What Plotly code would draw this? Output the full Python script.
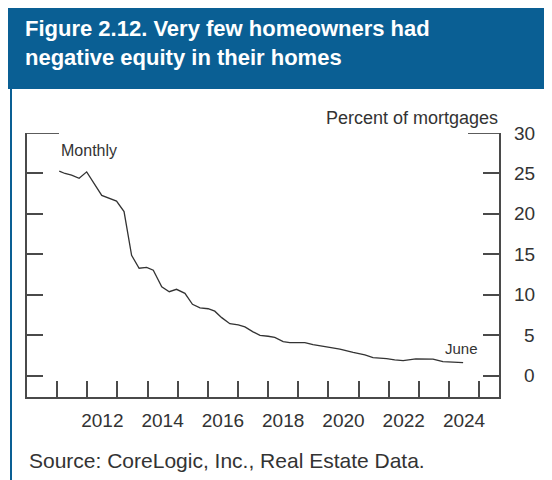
"""Figure 2.12: share of mortgages with negative equity, 2011-2024."""
import plotly.graph_objects as go

# decimal year and percent of mortgages in negative equity
years = [2011.07, 2011.26, 2011.48, 2011.73, 2011.98, 2012.48, 2012.97, 2013.22,
         2013.47, 2013.72, 2013.97, 2014.08, 2014.19, 2014.47, 2014.72, 2014.96,
         2015.24, 2015.49, 2015.74, 2016.01, 2016.23, 2016.46, 2016.73, 2017.01,
         2017.23, 2017.50, 2017.73, 2018.00, 2018.22, 2018.50, 2018.72, 2019.22,
         2019.49, 2019.94, 2020.38, 2020.82, 2021.21, 2021.48, 2021.93, 2022.20,
         2022.48, 2022.90, 2023.25, 2023.47, 2023.80, 2024.13, 2024.47]
pct = [25.3, 25.0, 24.8, 24.4, 25.2, 22.3, 21.6, 20.3,
       14.9, 13.3, 13.4, 13.25, 13.05, 11.0, 10.4, 10.7,
       10.2, 8.85, 8.4, 8.3, 8.0, 7.2, 6.45, 6.3,
       6.05, 5.45, 5.0, 4.9, 4.75, 4.25, 4.12, 4.12,
       3.88, 3.58, 3.3, 2.9, 2.6, 2.27, 2.15, 1.98,
       1.9, 2.12, 2.12, 2.08, 1.78, 1.7, 1.65]

year_ticks = list(range(2011, 2026))
year_labels = ["2012", "2014", "2016", "2018", "2020", "2022", "2024"]
y_ticks = [0, 5, 10, 15, 20, 25, 30]

# the page body adds an 8px margin, so the figure is drawn 8px smaller
# and page positions below are shifted by OFF
OFF = 8
W, H = 552 - OFF, 480 - OFF
L, R, T, B = 27 - OFF, W - (499 - OFF), 133 - OFF, H - (397 - OFF)
PW, PH = W - L - R, H - T - B
BLUE = "#0a5f94"
INK = "#333333"
AXIS = "#4a4a4a"
FONT = "Liberation Sans, Arial, sans-serif"


def px(x):
    """page x pixel -> paper fraction"""
    return (x - OFF - L) / PW


def py(y):
    """page y pixel (from top) -> paper fraction"""
    return (H - B - (y - OFF)) / PH


fig = go.Figure()
fig.add_trace(go.Scatter(x=years, y=pct, mode="lines",
                         line=dict(color=INK, width=1.3),
                         hoverinfo="skip", showlegend=False))
# empty trace so xaxis2 (the year labels) gets drawn
fig.add_trace(go.Scatter(x=[2010], y=[None], xaxis="x2", showlegend=False,
                         hoverinfo="skip"))

axis_common = dict(showgrid=False, zeroline=False)
fig.update_layout(
    width=W, height=H,
    margin=dict(l=L, r=R, t=T, b=B, pad=0),
    paper_bgcolor="white", plot_bgcolor="white",
    font=dict(family=FONT, color=INK, size=19),
    xaxis=dict(range=[2010, 2025.66], tickmode="array", tickvals=year_ticks,
               ticks="inside", ticklen=16, tickwidth=1.8, tickcolor=AXIS,
               showline=True, linecolor=AXIS, linewidth=2,
               showticklabels=False, **axis_common),
    xaxis2=dict(range=[2010, 2025.66], overlaying="x", anchor="y", side="bottom",
                tickmode="array", tickvals=[int(s) + 0.5 for s in year_labels],
                ticktext=year_labels, ticks="", showline=False,
                ticklabelstandoff=10, tickfont=dict(size=19, color=INK),
                **axis_common),
    yaxis=dict(range=[-2.6, 30], side="right", tickmode="array", tickvals=y_ticks,
               ticks="inside", ticklen=16, tickwidth=1.8, tickcolor=AXIS,
               showline=True, linecolor=AXIS, linewidth=2, mirror="ticks",
               showticklabels=False, **axis_common),
)

# right-aligned value labels
for v in y_ticks:
    fig.add_annotation(x=px(537), xref="paper", y=v, yref="y", text=str(v),
                       xanchor="right", yanchor="middle", showarrow=False,
                       font=dict(size=19, color=INK))

shapes = [
    # header band and left rule
    dict(type="rect", xref="paper", yref="paper", x0=px(8), x1=px(560),
         y0=py(89), y1=py(5), fillcolor=BLUE, line_width=0, layer="below"),
    dict(type="line", xref="paper", yref="paper", x0=px(11), x1=px(11),
         y0=py(89), y1=py(490), line=dict(color=BLUE, width=2)),
    # longer ticks at the top of the scale
    dict(type="line", xref="paper", yref="y", x0=0, x1=px(59), y0=30, y1=30,
         line=dict(color=AXIS, width=1.8)),
    dict(type="line", xref="paper", yref="y", x0=px(468), x1=1, y0=30, y1=30,
         line=dict(color=AXIS, width=1.8)),
]
fig.update_layout(shapes=shapes)

title_font = dict(family=FONT, size=22, color="white")
fig.add_annotation(x=px(23), y=py(28), xref="paper", yref="paper",
                   text="<b>Figure 2.12. Very few homeowners had</b>",
                   xanchor="left", yanchor="middle", showarrow=False, font=title_font)
fig.add_annotation(x=px(23), y=py(58), xref="paper", yref="paper",
                   text="<b>negative equity in their homes</b>",
                   xanchor="left", yanchor="middle", showarrow=False, font=title_font)

fig.add_annotation(x=px(500), y=py(118), xref="paper", yref="paper",
                   text="Percent of mortgages", xanchor="right", yanchor="middle",
                   showarrow=False, font=dict(size=18, color=INK))
fig.add_annotation(x=2011.05, y=27.9, text="Monthly", xanchor="left",
                   yanchor="middle", showarrow=False, font=dict(size=16, color=INK))
fig.add_annotation(x=2025.02, y=3.4, text="June", xanchor="right",
                   yanchor="middle", showarrow=False, font=dict(size=15, color=INK))
fig.add_annotation(x=px(27), y=py(460), xref="paper", yref="paper",
                   text="Source: CoreLogic, Inc., Real Estate Data.",
                   xanchor="left", yanchor="middle", showarrow=False,
                   font=dict(size=21, color=INK))

fig.write_html("out.html")
